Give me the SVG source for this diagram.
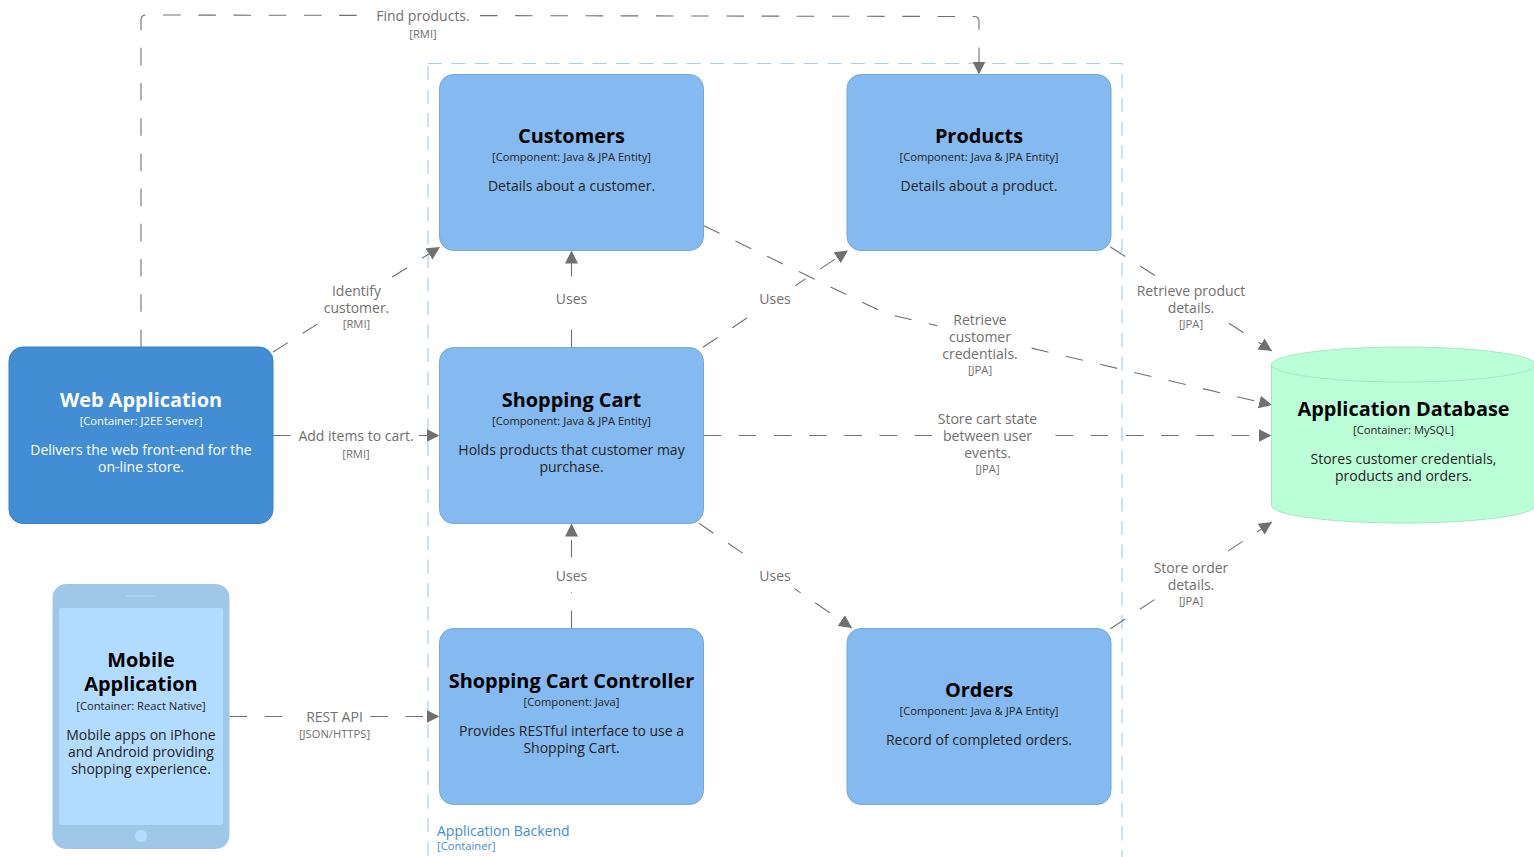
<svg xmlns="http://www.w3.org/2000/svg" width="1534" height="857" viewBox="0 0 1534 857">
<style>
text{font-family:"Open Sans","Noto Sans","DejaVu Sans",sans-serif;text-anchor:middle}
.t{font-size:19.9px;font-weight:700;fill:#000}
.m{font-size:11.2px;fill:#222}
.d{font-size:14px;fill:#222}
.w{fill:#fff}
.l{font-size:14px;fill:#707070}
.k{font-size:11.2px;fill:#707070}
.box{fill:#85baf0;stroke:#77a7d8;stroke-width:1}
.c{fill:none;stroke:#707070;stroke-width:1.1;stroke-dasharray:17.6 17.6}
.bg{fill:#fff}
</style>
<defs>
<marker id="a" markerUnits="userSpaceOnUse" markerWidth="15" markerHeight="15" refX="13" refY="7" orient="auto"><path d="M0 .5L13 7L0 13.500z" fill="#707070"/></marker>
</defs>
<g id="boundary">
<rect x="428" y="63.500" width="694" height="830" fill="none" stroke="#a9cdee" stroke-width="1.2" stroke-dasharray="14 9.500"/>
<text x="437" y="836" style="text-anchor:start;font-size:14px;fill:#438dd5">Application Backend</text>
<text x="437" y="850" style="text-anchor:start;font-size:11.2px;fill:#438dd5">[Container]</text>
</g>
<g id="connectors">
<path class="c" d="M141 347V20Q141 15 146 15L974 16.500Q979 16.500 979 21V74.500" marker-end="url(#a)"/>
<path class="c" d="M273 352L440 247" marker-end="url(#a)"/>
<path class="c" d="M273 435.500H439.500" marker-end="url(#a)"/>
<path class="c" d="M229.500 716.500H439.500" marker-end="url(#a)"/>
<path class="c" d="M571.500 347V250.500" marker-end="url(#a)"/>
<path class="c" d="M571.500 628V523.500" marker-end="url(#a)"/>
<path class="c" d="M703 347.300L848 250.500" marker-end="url(#a)"/>
<path class="c" d="M699 523.300L852 628" marker-end="url(#a)"/>
<path class="c" d="M703.700 225.700L886 313.700L1272 405" marker-end="url(#a)"/>
<path class="c" d="M703.500 435.500H1271.500" marker-end="url(#a)"/>
<path class="c" d="M1110.500 247L1272 351" marker-end="url(#a)"/>
<path class="c" d="M1110.500 628.700L1272 522" marker-end="url(#a)"/>
<rect class="bg" x="370" y="6" width="107" height="34"/>
<text class="l" x="423" y="21">Find products.</text>
<text class="k" x="423" y="38">[RMI]</text>
<rect class="bg" x="319" y="280" width="72" height="52"/>
<text class="l" x="356.500" y="296">Identify</text>
<text class="l" x="356.500" y="313">customer.</text>
<text class="k" x="356.500" y="328">[RMI]</text>
<rect class="bg" x="293" y="426" width="126" height="32"/>
<text class="l" x="356" y="441">Add items to cart.</text>
<text class="k" x="356" y="458">[RMI]</text>
<rect class="bg" x="300" y="708" width="69.500" height="34"/>
<text class="l" x="334.500" y="722">REST API</text>
<text class="k" x="334.500" y="738">[JSON/HTTPS]</text>
<rect class="bg" x="552" y="288" width="40" height="27"/>
<text class="l" x="571.500" y="304">Uses</text>
<rect class="bg" x="552" y="562" width="40" height="30"/>
<text class="l" x="571.500" y="581">Uses</text>
<rect class="bg" x="755" y="285" width="40.300" height="28"/>
<text class="l" x="775" y="304">Uses</text>
<rect class="bg" x="755" y="562" width="39.700" height="27.500"/>
<text class="l" x="775" y="581">Uses</text>
<rect class="bg" x="937" y="311" width="88" height="66"/>
<text class="l" x="980" y="325">Retrieve</text>
<text class="l" x="980" y="342">customer</text>
<text class="l" x="980" y="359">credentials.</text>
<text class="k" x="980" y="374">[JPA]</text>
<rect class="bg" x="933" y="410" width="110" height="66"/>
<text class="l" x="987.500" y="424">Store cart state</text>
<text class="l" x="987.500" y="441">between user</text>
<text class="l" x="987.500" y="458">events.</text>
<text class="k" x="987.500" y="473">[JPA]</text>
<rect class="bg" x="1160" y="280" width="66" height="50"/>
<text class="l" x="1191" y="296">Retrieve product</text>
<text class="l" x="1191" y="313">details.</text>
<text class="k" x="1191" y="328">[JPA]</text>
<rect class="bg" x="1155.500" y="555" width="72" height="52"/>
<text class="l" x="1191" y="573">Store order</text>
<text class="l" x="1191" y="590">details.</text>
<text class="k" x="1191" y="605">[JPA]</text>
</g>
<g id="web-application">
<rect x="9" y="347" width="264" height="176.500" rx="14" fill="#438dd5" stroke="#3c7fc0"/>
<text class="t w" x="141" y="407">Web Application</text>
<text class="m w" x="141" y="425">[Container: J2EE Server]</text>
<text class="d w" x="141" y="455">Delivers the web front-end for the</text>
<text class="d w" x="141" y="472">on-line store.</text>
</g>
<g id="mobile-application">
<rect x="52.500" y="584" width="177" height="265" rx="14" fill="#a0c6e8"/>
<rect x="59" y="608" width="164" height="217" rx="2" fill="#b2dcff"/>
<path d="M126 596H156" stroke="#b2dcff" stroke-width="1"/>
<circle cx="141" cy="836" r="6" fill="#b2dcff"/>
<text class="t" x="141" y="667">Mobile</text>
<text class="t" x="141" y="691">Application</text>
<text class="m" x="141" y="710">[Container: React Native]</text>
<text class="d" x="141" y="740">Mobile apps on iPhone</text>
<text class="d" x="141" y="757">and Android providing</text>
<text class="d" x="141" y="774">shopping experience.</text>
</g>
<g id="customers">
<rect class="box" x="439.500" y="74.500" width="264" height="176" rx="14"/>
<text class="t" x="571.500" y="143">Customers</text>
<text class="m" x="571.500" y="161">[Component: Java &amp; JPA Entity]</text>
<text class="d" x="571.500" y="191">Details about a customer.</text>
</g>
<g id="products">
<rect class="box" x="847" y="74.500" width="264" height="176" rx="14"/>
<text class="t" x="979" y="143">Products</text>
<text class="m" x="979" y="161">[Component: Java &amp; JPA Entity]</text>
<text class="d" x="979" y="191">Details about a product.</text>
</g>
<g id="shopping-cart">
<rect class="box" x="439.500" y="347.500" width="264" height="176" rx="14"/>
<text class="t" x="571.500" y="407">Shopping Cart</text>
<text class="m" x="571.500" y="425">[Component: Java &amp; JPA Entity]</text>
<text class="d" x="571.500" y="455">Holds products that customer may</text>
<text class="d" x="571.500" y="472">purchase.</text>
</g>
<g id="shopping-cart-controller">
<rect class="box" x="439.500" y="628.500" width="264" height="176" rx="14"/>
<text class="t" x="571.500" y="688">Shopping Cart Controller</text>
<text class="m" x="571.500" y="706">[Component: Java]</text>
<text class="d" x="571.500" y="736">Provides RESTful interface to use a</text>
<text class="d" x="571.500" y="753">Shopping Cart.</text>
</g>
<g id="orders">
<rect class="box" x="847" y="628.500" width="264" height="176" rx="14"/>
<text class="t" x="979" y="697">Orders</text>
<text class="m" x="979" y="715">[Component: Java &amp; JPA Entity]</text>
<text class="d" x="979" y="745">Record of completed orders.</text>
</g>
<g id="application-database">
<path d="M1271.500 364.500A132 17.500 0 0 1 1535.500 364.500V505.500A132 17.500 0 0 1 1271.500 505.500Z" fill="#bbffd8" stroke="#a8e6c2"/>
<path d="M1271.500 364.500A132 17.500 0 0 0 1535.500 364.500" fill="none" stroke="#a8e6c2"/>
<text class="t" x="1403.500" y="416">Application Database</text>
<text class="m" x="1403.500" y="434">[Container: MySQL]</text>
<text class="d" x="1403.500" y="464">Stores customer credentials,</text>
<text class="d" x="1403.500" y="481">products and orders.</text>
</g>
</svg>
